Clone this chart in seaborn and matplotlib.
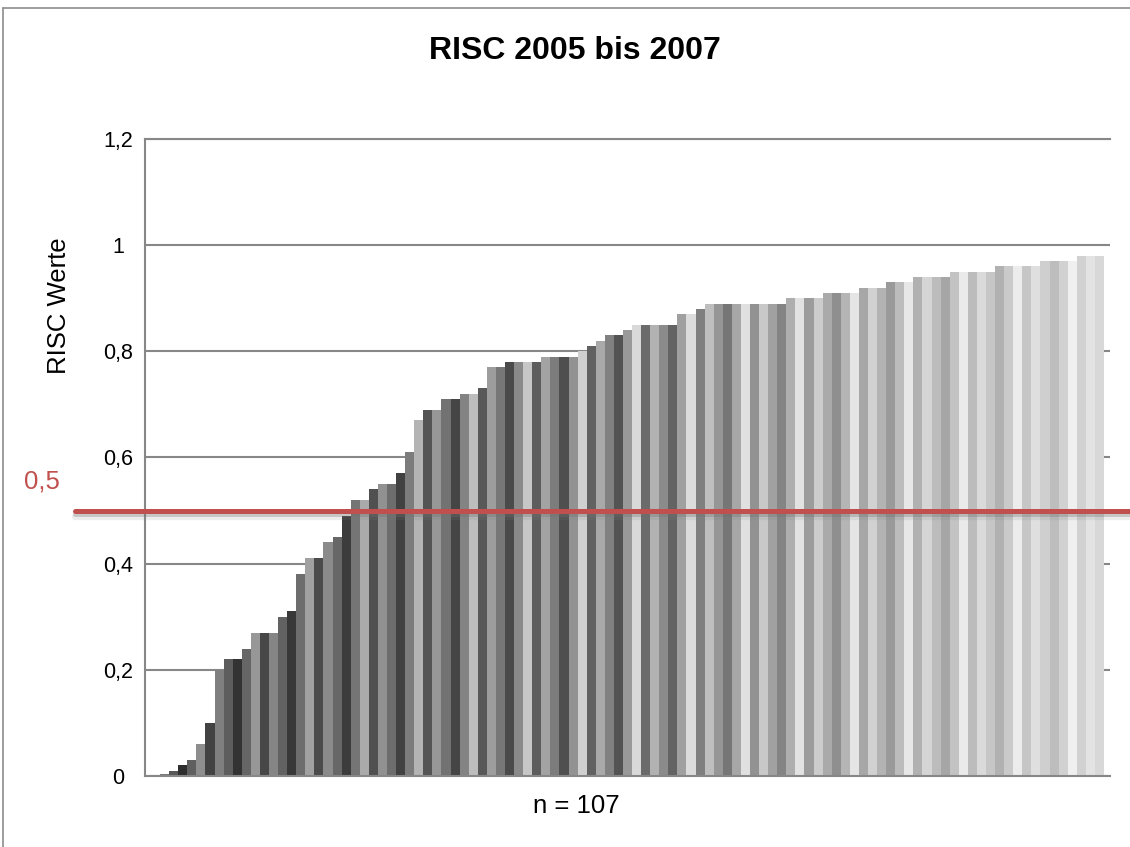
import numpy as np
import pandas as pd
import matplotlib
matplotlib.use("Agg")
import matplotlib.pyplot as plt
import matplotlib.patheffects as pe
from matplotlib.transforms import blended_transform_factory
from matplotlib.lines import Line2D
import seaborn as sns

# ---- data -------------------------------------------------------------
title = "RISC 2005 bis 2007"
y_label = "RISC Werte"
x_label = "n = 107"
threshold = 0.5
threshold_label = "0,5"
y_ticks = [0, 0.2, 0.4, 0.6, 0.8, 1.0, 1.2]
y_tick_labels = ["0", "0,2", "0,4", "0,6", "0,8", "1", "1,2"]

risc_values = [
    0.002, 0.004, 0.01, 0.02, 0.03, 0.06, 0.10, 0.20, 0.22, 0.22,
    0.24, 0.27, 0.27, 0.27, 0.30, 0.31, 0.38, 0.41, 0.41, 0.44,
    0.45, 0.49, 0.52, 0.52, 0.54, 0.55, 0.55, 0.57, 0.61, 0.67,
    0.69, 0.69, 0.71, 0.71, 0.72, 0.72, 0.73, 0.77, 0.77, 0.78,
    0.78, 0.78, 0.78, 0.79, 0.79, 0.79, 0.79, 0.80, 0.81, 0.82,
    0.83, 0.83, 0.84, 0.85, 0.85, 0.85, 0.85, 0.85, 0.87, 0.87,
    0.88, 0.89, 0.89, 0.89, 0.89, 0.89, 0.89, 0.89, 0.89, 0.89,
    0.90, 0.90, 0.90, 0.90, 0.91, 0.91, 0.91, 0.91, 0.92, 0.92,
    0.92, 0.93, 0.93, 0.93, 0.94, 0.94, 0.94, 0.94, 0.95, 0.95,
    0.95, 0.95, 0.95, 0.96, 0.96, 0.96, 0.96, 0.96, 0.97, 0.97,
    0.97, 0.97, 0.98, 0.98, 0.98,
]

# ---- styling ----------------------------------------------------------
sns.set_style("white")
plt.rcParams["font.family"] = ["Liberation Sans", "DejaVu Sans"]
plt.rcParams["text.color"] = "black"

GRID = "#878787"
RED = "#c0504d"
LABEL_SIZE = 18.5
TICK_SIZE = 15.5

n = len(risc_values)
idx = np.arange(n)

# grey shades: six-step cycle that gets lighter from left to right
shade_pos = [0, 52, 65, 104]
shade_levels = [
    [62, 100, 144, 212],
    [120, 172, 198, 228],
    [86, 131, 156, 216],
    [44, 84, 124, 198],
    [90, 153, 168, 214],
    [134, 216, 224, 240],
]
palette = {}
for i in idx:
    g = np.interp(i, shade_pos, shade_levels[i % 6]) / 255.0
    palette[int(i)] = (g, g, g)

df = pd.DataFrame({"series": idx, "risc": risc_values})

W, H = 1130, 847
fig = plt.figure(figsize=(W / 100, H / 100), dpi=100)
ax = fig.add_axes([145 / W, 1 - 776 / H, 965 / W, 637 / H])

sns.barplot(
    data=df, x="series", y="risc", hue="series", palette=palette,
    legend=False, width=1.0, saturation=1, linewidth=0,
    errorbar=None, ax=ax,
)

pad = 0.66
ax.set_xlim(-0.5 - pad, n - 0.5 + pad)
ax.set_ylim(0, 1.2)

ax.set_yticks(y_ticks)
ax.set_yticklabels(y_tick_labels, fontsize=TICK_SIZE, color="black", ha="center")
ax.set_xticks([-0.5 - pad, n - 0.5 + pad])
ax.set_xticklabels(["", ""])
ax.set_xlabel("")
ax.set_ylabel("")

ax.yaxis.grid(True, color=GRID, linewidth=1.5)
ax.set_axisbelow(True)
ax.spines["right"].set_visible(False)
for side in ("left", "bottom", "top"):
    ax.spines[side].set_color(GRID)
    ax.spines[side].set_linewidth(1.5)
ax.tick_params(axis="both", direction="out", length=5.8, width=1.1,
               color=GRID, labelcolor="black")
# labels centred roughly 27 px left of the axis
ax.tick_params(axis="y", pad=13.6)

# threshold line reaching beyond the plot area, with a soft drop shadow
trans = blended_transform_factory(fig.transFigure, ax.transData)
ax.add_line(Line2D(
    [75 / W, 1.0], [threshold, threshold], transform=trans,
    color=RED, linewidth=3.6, clip_on=False, zorder=5,
    path_effects=[
        pe.SimpleLineShadow(offset=(0, -4.5), shadow_color="#808080", alpha=0.14, linewidth=4.5),
        pe.SimpleLineShadow(offset=(0, -2.4), shadow_color="#707070", alpha=0.3, linewidth=3.6),
        pe.Normal(),
    ],
))
fig.text(42 / W, 1 - 481 / H, threshold_label, color=RED, fontsize=LABEL_SIZE,
         ha="center", va="center")

# texts
fig.text(575 / W, 1 - 51 / H, title, fontsize=23, fontweight="bold",
         ha="center", va="center", color="black")
fig.text(59 / W, 1 - 306 / H, y_label, fontsize=LABEL_SIZE, rotation=90,
         ha="center", va="center", color="black")
fig.text(576 / W, 1 - 806 / H, x_label, fontsize=LABEL_SIZE,
         ha="center", va="center", color="black")

# chart frame
fig.add_artist(Line2D([3 / W, 3 / W], [0, 1 - 8 / H], transform=fig.transFigure,
                      color="#8c8c8c", linewidth=1.2))
fig.add_artist(Line2D([3 / W, 1], [1 - 8 / H, 1 - 8 / H], transform=fig.transFigure,
                      color="#8c8c8c", linewidth=1.2))

fig.savefig("out.png", dpi=100, facecolor="white")
